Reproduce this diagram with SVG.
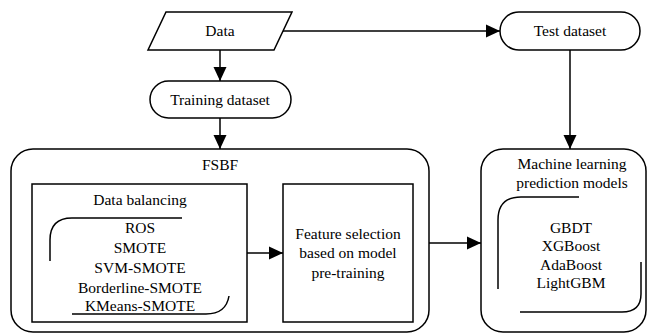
<svg xmlns="http://www.w3.org/2000/svg" width="650" height="334" viewBox="0 0 650 334">
<defs>
<marker id="ah" markerUnits="userSpaceOnUse" markerWidth="14" markerHeight="14" viewBox="0 0 14 14" refX="14" refY="7" orient="auto">
<path d="M0,0.5 L14,7 L0,13.5 Z" fill="#000"/>
</marker>
</defs>
<style>
.s{fill:#fff;stroke:#000;stroke-width:1.5}
.b{fill:none;stroke:#000;stroke-width:1.5}
.t{font-family:'Liberation Serif',serif;font-size:15.5px;fill:#000;text-anchor:middle}
.c{fill:none;stroke:#000;stroke-width:1.5;marker-end:url(#ah)}
</style>
<rect width="650" height="334" fill="#fff"/>
<g id="data">
<polygon class="s" points="166,12 292,12 274,50 148,50"/>
<text class="t" x="220" y="36">Data</text>
</g>
<g id="training">
<rect class="s" x="150" y="81" width="141" height="37" rx="18.5"/>
<text class="t" x="220" y="105">Training dataset</text>
</g>
<g id="test">
<rect class="s" x="500" y="12" width="140" height="38" rx="19"/>
<text class="t" x="570" y="36">Test dataset</text>
</g>
<g id="fsbf">
<rect class="s" x="11" y="149" width="418" height="183" rx="22"/>
<text class="t" x="220" y="170">FSBF</text>
</g>
<g id="balancing">
<rect class="s" x="32" y="184" width="215" height="138"/>
<text class="t" x="140" y="205">Data balancing</text>
<path class="b" d="M50,261 V240 Q50,218 72,218 H182"/>
<path class="b" d="M72,314 H206 Q226,314 229,296"/>
<text class="t" x="140" y="233">ROS</text>
<text class="t" x="140" y="253">SMOTE</text>
<text class="t" x="140" y="273">SVM-SMOTE</text>
<text class="t" x="140" y="293">Borderline-SMOTE</text>
<text class="t" x="140" y="311">KMeans-SMOTE</text>
</g>
<g id="feature">
<rect class="s" x="283" y="184" width="130" height="138"/>
<text class="t" x="348" y="239">Feature selection</text>
<text class="t" x="348" y="258">based on model</text>
<text class="t" x="348" y="278">pre-training</text>
</g>
<g id="ml">
<rect class="s" x="481" y="149" width="165" height="183" rx="22"/>
<text class="t" x="572" y="169">Machine learning</text>
<text class="t" x="572" y="188">prediction models</text>
<path class="b" d="M498,289 V220 Q498,197 521,197 H579"/>
<path class="b" d="M641,262 V294 Q641,312 622,312 H520"/>
<text class="t" x="571" y="233">GBDT</text>
<text class="t" x="571" y="251">XGBoost</text>
<text class="t" x="571" y="270">AdaBoost</text>
<text class="t" x="571" y="288">LightGBM</text>
</g>
<g id="connectors">
<path class="c" d="M220,50 V81"/>
<path class="c" d="M220,118 V149"/>
<path class="c" d="M283,31 H500"/>
<path class="c" d="M570,50 V149"/>
<path class="c" d="M247,253 H283"/>
<path class="c" d="M429,243 H481"/>
</g>
</svg>
